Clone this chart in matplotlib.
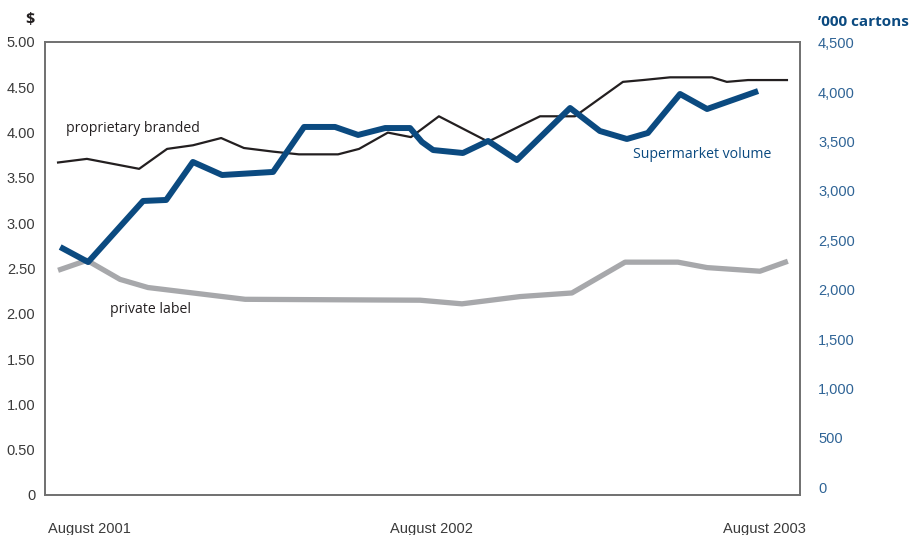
import matplotlib.pyplot as plt

# x positions are months since August 2001
brand_x = [0, 0.95, 2.67, 3.59, 4.44, 5.37, 6.12, 7.08, 7.93, 9.22, 9.91, 10.86,
           11.62, 12.54, 14.16, 15.87, 17.02, 18.6, 19.26, 20.15, 21.53, 22.02,
           22.72, 24.0]
brand_y = [3.67, 3.71, 3.60, 3.82, 3.86, 3.94, 3.83, 3.79, 3.76, 3.76, 3.82, 4.00,
           3.95, 4.18, 3.90, 4.18, 4.18, 4.56, 4.58, 4.61, 4.61, 4.56, 4.58, 4.58]

private_x = [0, 0.95, 2.04, 2.96, 4.44, 6.16, 11.92, 13.3, 15.21, 16.92, 18.67,
             20.41, 21.37, 23.11, 24.03]
private_y = [2.48, 2.59, 2.38, 2.29, 2.23, 2.16, 2.15, 2.11, 2.19, 2.23, 2.57,
             2.57, 2.51, 2.47, 2.58]

volume_x = [0.07, 0.99, 2.8, 3.56, 4.44, 5.4, 7.08, 8.1, 9.12, 9.88, 10.77, 11.59,
            11.98, 12.35, 13.33, 14.16, 15.11, 16.86, 17.84, 18.73, 19.42, 20.48,
            21.37, 23.05]
volume_y = [2432, 2280, 2899, 2909, 3294, 3162, 3193, 3649, 3649, 3568, 3638, 3638,
            3497, 3415, 3385, 3507, 3314, 3841, 3608, 3527, 3588, 3983, 3831, 4013]

left_ticks = [0, 0.5, 1, 1.5, 2, 2.5, 3, 3.5, 4, 4.5, 5]
left_labels = ["0", "0.50", "1.00", "1.50", "2.00", "2.50", "3.00", "3.50", "4.00",
               "4.50", "5.00"]
right_ticks = [0, 500, 1000, 1500, 2000, 2500, 3000, 3500, 4000, 4500]
right_labels = ["0", "500", "1,000", "1,500", "2,000", "2,500", "3,000", "3,500",
                "4,000", "4,500"]

BLUE = "#0b4a80"
BLUE_TXT = "#2f6496"
GREY = "#a7a8ab"
BLACK = "#231f20"
TICK = "#3a3a3a"
narrow = ["Liberation Sans", "DejaVu Sans"]
label_font = ["Open Sans", "DejaVu Sans"]

fig = plt.figure(figsize=(9.11, 5.35), dpi=100)
ax = fig.add_axes([45/911, 1-495/535, 755/911, 453/535])
ax2 = ax.twinx()

ax.plot(private_x, private_y, color=GREY, lw=3.8, solid_capstyle='butt', zorder=2)
ax.plot(brand_x, brand_y, color=BLACK, lw=1.6, zorder=3)
ax2.plot(volume_x, volume_y, color=BLUE, lw=4.3, solid_capstyle='butt')

ax.set_xlim(-0.43, 24.43)
ax.set_ylim(0, 5)
ax2.set_ylim(-81, 4510)

ax.set_yticks(left_ticks)
ax.set_yticklabels(left_labels, family=narrow, fontsize=10.5, color=TICK)
ax2.set_yticks(right_ticks)
ax2.set_yticklabels(right_labels, family=narrow, fontsize=10.5, color=BLUE_TXT)
ax.set_xticks([])
ax.tick_params(axis='y', length=0, pad=7)
ax2.tick_params(axis='y', length=0, pad=13)

for a in (ax, ax2):
    for s in a.spines.values():
        s.set_color("#707070")
        s.set_linewidth(1.2)

# x labels
xt = ax.get_xaxis_transform()
ax.text(-0.33, -0.075, "August 2001", transform=xt, ha='left', va='center',
        family=narrow, fontsize=10.5, color=TICK)
ax.text(12.3, -0.075, "August 2002", transform=xt, ha='center', va='center',
        family=narrow, fontsize=10.5, color=TICK)
ax.text(24.63, -0.075, "August 2003", transform=xt, ha='right', va='center',
        family=narrow, fontsize=10.5, color=TICK)

# axis titles
fig.text(30/911, 1-20/535, "$", ha='center', va='center', fontsize=11.5,
         fontweight='bold', color=BLACK, family=label_font)
fig.text(818/911, 1-22/535, "\u2019000 cartons", ha='left', va='center',
         fontsize=11, fontweight='bold', color=BLUE, family=label_font)

# series labels
ax.text(0.26, 4.04, "proprietary branded", ha='left', va='center', fontsize=10.1,
        color=BLACK, family=label_font)
ax.text(1.71, 2.05, "private label", ha='left', va='center', fontsize=10.1,
        color=BLACK, family=label_font)
ax.text(18.93, 3.76, "Supermarket volume", ha='left', va='center', fontsize=10.2,
        color=BLUE, family=label_font)

fig.savefig("out.png", dpi=100)
